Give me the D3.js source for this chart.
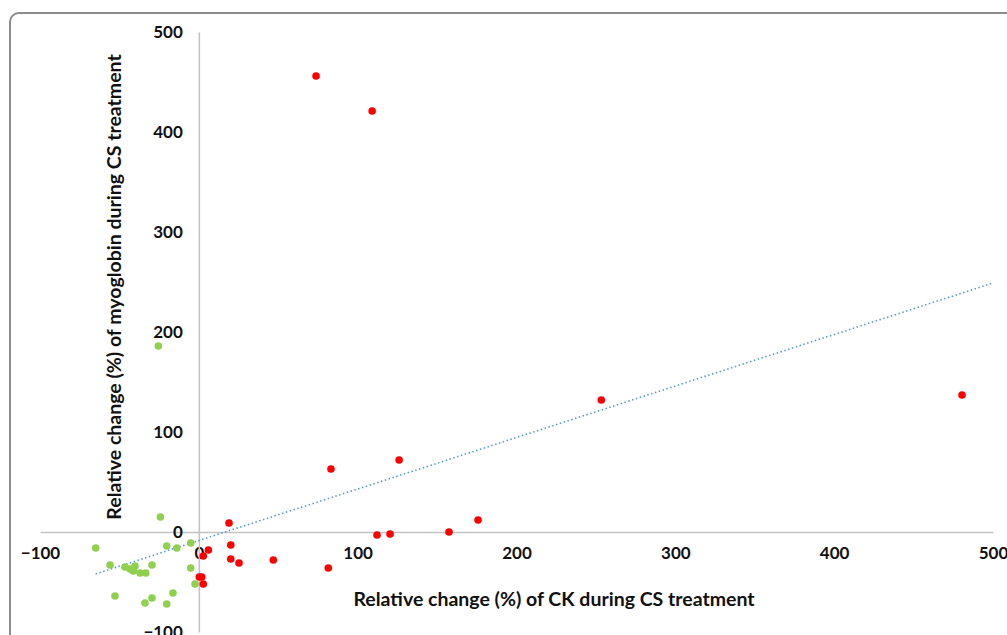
<!DOCTYPE html>
<html><head><meta charset="utf-8">
<script src="https://cdn.jsdelivr.net/npm/d3@7"></script>
<style>html,body{margin:0;padding:0;background:#fff;overflow:hidden}</style>
</head><body>
<svg id="chart" width="1007" height="635"></svg>
<script>
const xTicks = [-100, 0, 100, 200, 300, 400, 500];
const yTicks = [-100, 0, 100, 200, 300, 400, 500];
const redX = [73.8,109.1,253.4,480.5,83.2,126.1,19.0,175.8,157.5,120.4,112.2,20.1,6.0,2.8,20.1,25.3,46.9,81.5,0.3,1.8,2.8];
const redY = [456,421,132,137,63,72,9,12,0,-2,-3,-13,-18,-24,-27,-31,-28,-36,-45,-45,-52];
const greenX = [-24.2,-64.9,-20.2,-13.9,-5.1,-55.9,-46.5,-43.3,-40.2,-41.2,-37.0,-33.4,-29.5,-5.1,-2.4,-52.8,-33.9,-29.5,-20.2,-16.3,-25.5];
const greenY = [15,-16,-14,-16,-11,-33,-35,-37,-34,-39,-41,-41,-33,-36,-52,-64,-71,-66,-72,-61,186];
const trendX = [-65, 500];
const trendY = [-42, 249];
const xTitle = "Relative change (%) of CK during CS treatment";
const yTitle = "Relative change (%) of myoglobin during CS treatment";

const svg = d3.select("#chart");
svg.append("rect").attr("x",10).attr("y",13).attr("width",1040).attr("height",680)
  .attr("rx",9).attr("fill","#fff").attr("stroke","#8c8c8c").attr("stroke-width",2);

const x = d3.scaleLinear().domain([-100,500]).range([40,993]);
const y = d3.scaleLinear().domain([-100,500]).range([632,32]);
const font = "Lato, 'Open Sans', sans-serif";

const xa = svg.append("g").attr("transform",`translate(0,${y(0)})`)
  .call(d3.axisBottom(x).tickValues(xTicks).tickSize(0).tickPadding(15).tickFormat(d3.format("d")));
const ya = svg.append("g").attr("transform",`translate(${x(0)},0)`)
  .call(d3.axisLeft(y).tickValues(yTicks).tickSize(0).tickPadding(16).tickFormat(d3.format("d")));
[xa,ya].forEach(a=>{
  a.select(".domain").attr("stroke","#c4c4c4").attr("stroke-width",1.6);
  a.selectAll("text").attr("font-family",font).attr("font-weight","bold")
   .attr("font-size",17).attr("fill","#111").text(d=>d<0?"\u2212"+Math.abs(d):d);
});

svg.append("line").attr("x1",x(trendX[0])).attr("y1",y(trendY[0]))
  .attr("x2",x(trendX[1])).attr("y2",y(trendY[1]))
  .attr("stroke","#5b9bd5").attr("stroke-width",1.6).attr("stroke-dasharray","1.5,2.5");

const red = redX.map((v,i)=>[v,redY[i]]);
const green = greenX.map((v,i)=>[v,greenY[i]]);
svg.append("g").selectAll("circle").data(green).join("circle")
  .attr("cx",d=>x(d[0])).attr("cy",d=>y(d[1])).attr("r",3.8).attr("fill","#8fd14f");
svg.append("g").selectAll("circle").data(red).join("circle")
  .attr("cx",d=>x(d[0])).attr("cy",d=>y(d[1])).attr("r",3.8).attr("fill","#ff0000");

svg.append("text").attr("x",554).attr("y",606).attr("text-anchor","middle")
  .attr("font-family",font).attr("font-weight","bold").attr("font-size",19.5).attr("fill","#111").text(xTitle);
svg.append("text").attr("transform","translate(121,287) rotate(-90)").attr("text-anchor","middle")
  .attr("font-family",font).attr("font-weight","bold").attr("font-size",19.5).attr("fill","#111").text(yTitle);
</script>
</body></html>
